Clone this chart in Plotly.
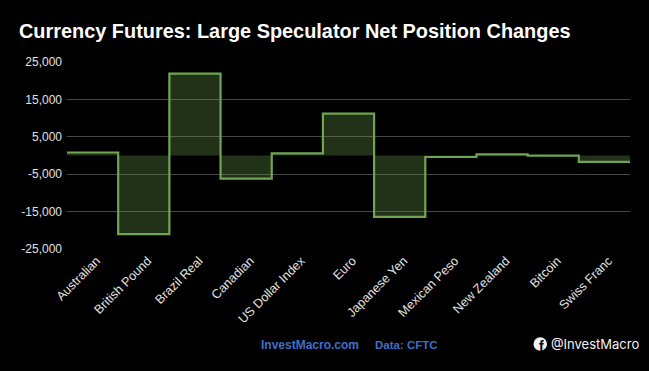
import plotly.graph_objects as go

categories = ["Australian", "British Pound", "Brazil Real", "Canadian", "US Dollar Index", "Euro",
              "Japanese Yen", "Mexican Peso", "New Zealand", "Bitcoin", "Swiss Franc"]
net_change = [800, -21000, 21900, -6200, 550, 11200, -16400, -400, 300, -50, -1700]
y_ticks = [25000, 15000, 5000, -5000, -15000, -25000]

FONT = "Liberation Sans, Arial, sans-serif"
W, H = 649, 371
L, R, T, B = 67, 630, 61.5, 249

# each category occupies a full unit: build the step outline from the data
xs, ys = [], []
for i, v in enumerate(net_change):
    xs += [i - 0.5, i + 0.5]
    ys += [v, v]

fig = go.Figure(go.Scatter(
    x=xs, y=ys, mode="lines",
    line=dict(color="#6fa552", width=2.2),
    fill="tozeroy", fillcolor="rgba(112,165,80,0.30)",
    hoverinfo="skip", showlegend=False,
))

fig.update_layout(
    width=W, height=H, autosize=False,
    paper_bgcolor="#000000", plot_bgcolor="#000000",
    margin=dict(l=L, r=W - R, t=T, b=H - B, pad=0),
    font=dict(family=FONT, color="#e6e6e6", size=12),
    xaxis=dict(range=[-0.5, 10.5], tickmode="array", tickvals=list(range(len(categories))),
               ticktext=categories, tickangle=-45, showgrid=False, zeroline=False,
               showline=False, ticks="", ticklabelstandoff=1, ticklabelshift=4,
               tickfont=dict(size=12.6, color="#e0e0e0")),
    yaxis=dict(range=[-25000, 25000], tickmode="array", tickvals=y_ticks,
               ticktext=[f"{v:,}" for v in y_ticks], gridcolor="#474747", gridwidth=1,
               zeroline=False, showline=False, ticks="", ticklen=0, ticklabelstandoff=4,
               tickfont=dict(size=12, color="#e0e0e0")),
    annotations=[
        dict(text="<b>Currency Futures: Large Speculator Net Position Changes</b>",
             xref="paper", yref="paper", x=(17 - L) / (R - L), y=1 + (T - 30) / (B - T),
             xanchor="left", yanchor="middle", showarrow=False,
             font=dict(family=FONT, size=19.9, color="#ffffff")),
        dict(text="<b>InvestMacro.com</b>", xref="paper", yref="paper",
             x=(259 - L) / (R - L), y=1 - (345 - T) / (B - T), xanchor="left", yanchor="middle",
             showarrow=False, font=dict(family=FONT, size=12, color="#3f6fc9")),
        dict(text="<b>Data: CFTC</b>", xref="paper", yref="paper",
             x=(373 - L) / (R - L), y=1 - (345 - T) / (B - T), xanchor="left", yanchor="middle",
             showarrow=False, font=dict(family=FONT, size=11.5, color="#3f6fc9")),
        dict(text="@InvestMacro", xref="paper", yref="paper",
             x=(549 - L) / (R - L), y=1 - (344 - T) / (B - T), xanchor="left", yanchor="middle",
             showarrow=False, font=dict(family="Inter, Lato, sans-serif", size=13, color="#f2f2f2")),
        dict(text="<b>f</b>", xref="paper", yref="paper",
             x=(541 - L) / (R - L), y=1 - (346 - T) / (B - T), xanchor="center", yanchor="middle",
             showarrow=False, font=dict(family=FONT, size=14, color="#000000")),
    ],
    shapes=[dict(type="circle", xref="paper", yref="paper",
                 x0=(533.5 - L) / (R - L), x1=(547 - L) / (R - L),
                 y0=1 - (351 - T) / (B - T), y1=1 - (337.5 - T) / (B - T),
                 fillcolor="#f2f2f2", line=dict(width=0), layer="below")],
)

fig.write_html("out.html", config={"displayModeBar": False},
               post_script="document.documentElement.style.background='#000';"
                           "document.body.style.margin='0';document.body.style.background='#000';"
                           "document.body.style.overflow='hidden';")
